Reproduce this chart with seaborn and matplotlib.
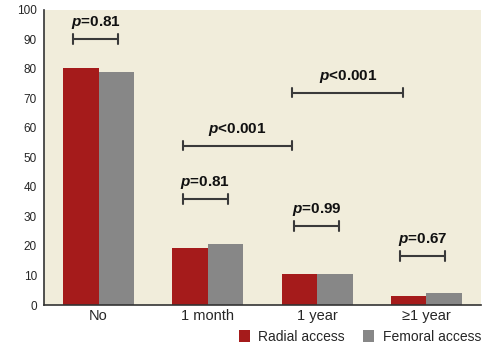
import matplotlib
matplotlib.use("Agg")
import matplotlib.pyplot as plt
import seaborn as sns
import pandas as pd
import numpy as np
from matplotlib.patches import Patch

categories = ["No", "1 month", "1 year", "\u22651 year"]
radial = [80.5, 19.3, 10.4, 2.9]
femoral = [79.0, 20.8, 10.4, 4.2]
series = ["Radial access", "Femoral access"]
colors = ["#a51b1b", "#878787"]
yticks = list(range(0, 101, 10))

# p-value annotations: (label, x_start, x_end, y_bracket, y_text, operator)
pvals = [
    ("0.81", -0.23, 0.18, 90.2, 92.8, "="),
    ("0.81", 0.77, 1.18, 36.0, 38.6, "="),
    ("0.001", 0.77, 1.77, 54.0, 56.6, "<"),
    ("0.001", 1.77, 2.79, 72.0, 74.6, "<"),
    ("0.99", 1.79, 2.20, 26.8, 29.4, "="),
    ("0.67", 2.76, 3.17, 16.6, 19.2, "="),
]

df = pd.DataFrame({
    "category": categories * 2,
    "value": radial + femoral,
    "series": [series[0]] * 4 + [series[1]] * 4,
})

fam = "Liberation Sans"
sns.set_style("white")
plt.rcParams["font.family"] = [fam, "DejaVu Sans"]
plt.rcParams["mathtext.fontset"] = "custom"
plt.rcParams["mathtext.it"] = fam + ":italic:bold"
plt.rcParams["mathtext.rm"] = fam + ":bold"

fig = plt.figure(figsize=(5.02, 3.48), dpi=100)
ax = fig.add_axes([44 / 502, 43 / 348, 437 / 502, 295 / 348])
ax.set_facecolor("#f1eddb")

sns.barplot(data=df, x="category", y="value", hue="series", order=categories,
            hue_order=series, palette=colors, width=0.65, gap=0, ax=ax,
            saturation=1, legend=False, linewidth=0)

ax.set_xlim(-0.5, 3.5)
ax.set_ylim(0, 100)
ax.set_yticks(yticks)
ax.set_yticklabels([str(t) for t in yticks], fontsize=8.5)
ax.set_xticks(range(4))
ax.set_xticklabels(categories, fontsize=10.5)
ax.set_xticks(np.arange(-0.5, 3.6, 1), minor=True)
ax.tick_params(axis="x", which="major", length=0, pad=3)
ax.tick_params(axis="x", which="minor", length=4, width=1, color="#333333", direction="out")
ax.tick_params(axis="y", length=4, width=1, color="#333333", direction="out", pad=1)
ax.set_xlabel("")
ax.set_ylabel("")
for s in ["top", "right"]:
    ax.spines[s].set_visible(False)
for s in ["left", "bottom"]:
    ax.spines[s].set_color("#333333")
    ax.spines[s].set_linewidth(1.2)

for lab, x0, x1, yb, yt, op in pvals:
    ax.plot([x0, x1], [yb, yb], color="#3a3a3a", lw=1.5, solid_capstyle="butt")
    for xx in (x0, x1):
        ax.plot([xx, xx], [yb - 1.6, yb + 1.6], color="#3a3a3a", lw=1.5)
    ax.text((x0 + x1) / 2, yt, r"$p$" + op + lab, ha="center", va="bottom",
            fontsize=11, fontweight="bold", color="#111111")

handles = [Patch(facecolor=c, edgecolor="none") for c in colors]
fig.legend(handles, series, loc="center right", bbox_to_anchor=(0.958, 0.032),
           ncol=2, frameon=False, handlelength=0.8, handleheight=1.0,
           handletextpad=0.6, columnspacing=1.3, borderaxespad=0, borderpad=0,
           prop={"family": [fam, "DejaVu Sans"], "size": 10})

fig.savefig("out.png", dpi=100, facecolor="white")
